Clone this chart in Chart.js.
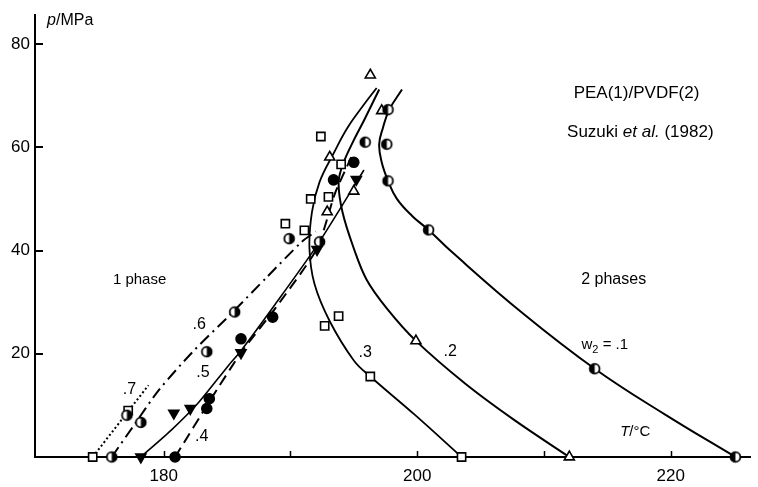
<!DOCTYPE html>
<html>
<head>
<meta charset="utf-8">
<script src="https://cdn.jsdelivr.net/npm/chart.js@4.4.1/dist/chart.umd.min.js"></script>
<style>
  html, body { margin: 0; padding: 0; background: #fff; }
  #wrap { width: 758px; height: 487px; }
</style>
</head>
<body>
<div id="wrap"><canvas id="c" width="758" height="487"></canvas></div>
<script>
// Cloud-point pressure p (MPa) against temperature T (°C) for PEA(1)/PVDF(2),
// one curve per PVDF weight fraction w2, plus the measured points.

// w2 = .1
const curveT_w1 = [198.8, 197.8, 197.3, 197.0, 197.2, 197.7, 198.4, 199.6, 200.9, 202.7, 208.3, 214.0, 219.5, 225.1];
const curveP_w1 = [71.2, 67.3, 63.8, 60.6, 57.1, 53.5, 50.0, 46.7, 44.0, 39.8, 27.9, 17.1, 8.3, 0];
const pointT_w1 = [225.1, 214.0, 200.9, 197.7, 197.6, 195.9, 197.7];
const pointP_w1 = [0, 17.1, 44.0, 53.5, 60.6, 61.0, 67.3];

// w2 = .2
const curveT_w2 = [197.0, 195.8, 195.0, 194.2, 193.8, 194.1, 195.0, 196.0, 197.6, 199.9, 203.8, 207.7, 212.0];
const curveP_w2 = [71.2, 65.2, 61.4, 57.1, 53.3, 47.5, 40.4, 34.4, 28.8, 22.5, 14.2, 7.1, 0];
const pointT_w2 = [196.3, 197.2, 193.1, 192.9, 195.0, 199.9, 212.0];
const pointP_w2 = [74.0, 67.1, 58.1, 47.5, 51.5, 22.5, 0];

// w2 = .3
const curveT_w3 = [196.8, 195.8, 194.5, 193.4, 192.3, 191.7, 191.5, 191.9, 193.1, 195.0, 196.3, 199.8, 203.5];
const curveP_w3 = [71.5, 68.3, 63.8, 58.8, 53.3, 47.5, 40.4, 33.5, 26.3, 18.7, 15.6, 8.2, 0];
const pointT_w3 = [192.4, 194.0, 191.6, 193.0, 189.6, 191.1, 192.7, 193.8, 196.3, 203.5];
const pointP_w3 = [62.1, 56.7, 50.0, 50.4, 45.2, 43.9, 25.4, 27.3, 15.6, 0];

// w2 = .4
const curveT_w4 = [180.9, 183.8, 186.1, 188.8, 192.1, 193.5, 194.8];
const curveP_w4 = [0, 11.5, 20.2, 28.8, 40.4, 51.0, 58.1];
const pointT_w4 = [180.9, 183.4, 183.6, 186.1, 188.6, 193.4, 195.0];
const pointP_w4 = [0, 9.4, 11.3, 22.9, 27.1, 53.7, 57.1];

// w2 = .5
const curveT_w5 = [178.2, 180.6, 182.7, 185.1, 186.1, 188.8, 192.1, 195.8];
const curveP_w5 = [0, 5.2, 10.4, 17.7, 20.6, 29.6, 41.0, 55.6];
const pointT_w5 = [178.2, 180.8, 182.1, 186.1, 192.1, 195.2];
const pointP_w5 = [0, 8.5, 9.4, 20.2, 40.2, 53.8];

// w2 = .6
const curveT_w6 = [175.9, 177.5, 179.6, 182.3, 185.3, 188.2, 190.9, 192.0];
const curveP_w6 = [0, 5.6, 12.9, 20.4, 27.7, 35.0, 41.7, 43.7];
const pointT_w6 = [175.9, 177.1, 178.2, 183.4, 185.6, 189.9, 192.3];
const pointP_w6 = [0, 8.1, 6.7, 20.4, 28.1, 42.3, 41.7];

// w2 = .7
const curveT_w7 = [174.4, 178.8];
const curveP_w7 = [0, 13.9];
const pointT_w7 = [174.4, 177.2];
const pointP_w7 = [0, 9.0];

// axis ticks
const xTickValues = [180, 200, 220];
const xMinorTickValues = [190, 210];
const yTickValues = [20, 40, 60, 80];

const FONT = '"Liberation Sans", Arial, Helvetica, sans-serif';

function pts(T, p) { return T.map((t, i) => ({ x: t, y: p[i] })); }

// half-filled circle marker drawn on a small canvas
function halfDisc(r, side) {
  const s = Math.ceil(2 * r + 4);
  const c = document.createElement('canvas');
  c.width = s; c.height = s;
  const g = c.getContext('2d');
  const m = s / 2;
  g.beginPath(); g.arc(m, m, r, 0, 2 * Math.PI); g.fillStyle = '#fff'; g.fill();
  g.beginPath();
  if (side === 'left') g.arc(m, m, r, Math.PI / 2, 3 * Math.PI / 2);
  else g.arc(m, m, r, -Math.PI / 2, Math.PI / 2);
  g.closePath(); g.fillStyle = '#000'; g.fill();
  g.beginPath(); g.arc(m, m, r - 0.4, 0, 2 * Math.PI); g.lineWidth = 1.8; g.strokeStyle = '#000'; g.stroke();
  return c;
}
const halfLeft = halfDisc(5.3, 'left');
const halfRight = halfDisc(5.3, 'right');

function curve(T, p, extra) {
  return Object.assign({
    data: pts(T, p), showLine: true, borderColor: '#000', borderWidth: 2,
    pointRadius: 0, pointHoverRadius: 0, tension: 0.35, fill: false, order: 2
  }, extra || {});
}
function marks(T, p, extra) {
  return Object.assign({
    data: pts(T, p), showLine: false, clip: false, order: 0,
    pointBorderColor: '#000', pointBorderWidth: 1.6, pointRadius: 5.5, pointHoverRadius: 5.5
  }, extra || {});
}

const datasets = [
  curve(curveT_w1, curveP_w1, { tension: 0.42 }),
  curve(curveT_w2, curveP_w2),
  curve(curveT_w3, curveP_w3, { borderWidth: 1.8, tension: 0.4 }),
  curve(curveT_w4, curveP_w4, { borderDash: [11, 6], tension: 0.2 }),
  curve(curveT_w5, curveP_w5, { borderWidth: 1.6, tension: 0.25 }),
  curve(curveT_w6, curveP_w6, { borderDash: [12, 5, 2, 5], tension: 0.25 }),
  curve(curveT_w7, curveP_w7, { borderDash: [2, 2.5], tension: 0 }),
  marks(pointT_w1, pointP_w1, { pointStyle: halfLeft }),
  marks(pointT_w2, pointP_w2, { pointStyle: 'triangle', pointBackgroundColor: '#fff', pointRadius: 5.8 }),
  marks(pointT_w3, pointP_w3, { pointStyle: 'rect', pointBackgroundColor: '#fff', pointRadius: 5.8 }),
  marks(pointT_w4, pointP_w4, { pointStyle: 'circle', pointBackgroundColor: '#000', pointRadius: 5 }),
  marks(pointT_w5, pointP_w5, { pointStyle: 'triangle', rotation: 180, pointBackgroundColor: '#000', pointRadius: 5.8 }),
  marks(pointT_w6, pointP_w6, { pointStyle: halfRight }),
  marks(pointT_w7, pointP_w7, { pointStyle: 'rect', pointBackgroundColor: '#fff', pointRadius: 5.8 })
];

// text placed in data coordinates; parts: [text, style] with style '' | 'i' (italic) | 's' (subscript)
const notes = [
  { parts: [['p', 'i'], ['/MPa', '']], T: 170.8, p: 84.6, size: 16, align: 'left' },
  { parts: [['T', 'i'], ['/°C', '']], T: 217.2, p: 4.8, size: 15 },
  { parts: [['PEA(1)/PVDF(2)', '']], T: 217.3, p: 70.4, size: 17 },
  { parts: [['Suzuki ', ''], ['et al.', 'i'], [' (1982)', '']], T: 217.6, p: 62.9, size: 17 },
  { parts: [['1 phase', '']], T: 178.1, p: 34.4, size: 15 },
  { parts: [['2 phases', '']], T: 215.5, p: 34.4, size: 16 },
  { parts: [['w', ''], ['2', 's'], [' = .1', '']], T: 214.8, p: 21.7, size: 15 },
  { parts: [['.2', '']], T: 202.6, p: 20.4, size: 16 },
  { parts: [['.3', '']], T: 195.9, p: 20.2, size: 16 },
  { parts: [['.4', '']], T: 183.0, p: 4.0, size: 16 },
  { parts: [['.5', '']], T: 183.1, p: 16.4, size: 16 },
  { parts: [['.6', '']], T: 182.8, p: 25.6, size: 16 },
  { parts: [['.7', '']], T: 177.3, p: 13.1, size: 16 }
];

function fontFor(style, size) {
  const sz = style === 's' ? Math.round(size * 0.72) : size;
  return (style === 'i' ? 'italic ' : '') + sz + 'px ' + FONT;
}

const decorations = {
  id: 'decorations',
  afterDatasetsDraw(chart) {
    const { ctx, chartArea, scales } = chart;
    const xs = scales.x, ys = scales.y;
    ctx.save();
    ctx.strokeStyle = '#000';
    ctx.lineWidth = 2;
    // inward tick marks
    yTickValues.forEach(v => {
      const y = Math.round(ys.getPixelForValue(v));
      ctx.beginPath(); ctx.moveTo(chartArea.left, y); ctx.lineTo(chartArea.left + 8, y); ctx.stroke();
    });
    ctx.lineWidth = 1.5;
    xTickValues.concat(xMinorTickValues).forEach(v => {
      const x = Math.round(xs.getPixelForValue(v)) + 0.5;
      ctx.beginPath(); ctx.moveTo(x, chartArea.bottom); ctx.lineTo(x, chartArea.bottom - 6); ctx.stroke();
    });
    // text notes
    ctx.fillStyle = '#000';
    ctx.textBaseline = 'middle';
    ctx.textAlign = 'left';
    notes.forEach(n => {
      let total = 0;
      const widths = n.parts.map(([t, s]) => { ctx.font = fontFor(s, n.size); const w = ctx.measureText(t).width; total += w; return w; });
      let x = xs.getPixelForValue(n.T);
      const y = ys.getPixelForValue(n.p);
      if (n.align !== 'left') x -= total / 2;
      n.parts.forEach(([t, s], i) => {
        ctx.font = fontFor(s, n.size);
        ctx.fillText(t, x, s === 's' ? y + n.size * 0.3 : y);
        x += widths[i];
      });
    });
    ctx.restore();
  }
};

new Chart(document.getElementById('c'), {
  type: 'scatter',
  data: { datasets },
  options: {
    responsive: false,
    animation: false,
    devicePixelRatio: 1,
    layout: { padding: { top: 12, right: 0, bottom: 0, left: 0 } },
    plugins: { legend: { display: false }, tooltip: { enabled: false } },
    events: [],
    scales: {
      x: {
        type: 'linear', min: 169.85, max: 226.3,
        grid: { display: false, drawTicks: false },
        border: { display: true, color: '#000', width: 2 },
        ticks: { color: '#000', font: { family: FONT, size: 17 }, padding: 9 },
        afterBuildTicks: axis => { axis.ticks = xTickValues.map(v => ({ value: v })); },
        afterFit: axis => { axis.height = 30; }
      },
      y: {
        type: 'linear', min: 0, max: 85.6,
        grid: { display: false, drawTicks: false },
        border: { display: true, color: '#000', width: 2 },
        ticks: { color: '#000', font: { family: FONT, size: 17 }, padding: 5 },
        afterBuildTicks: axis => { axis.ticks = yTickValues.map(v => ({ value: v })); },
        afterFit: axis => { axis.width = 35; }
      }
    }
  },
  plugins: [decorations]
});
</script>
</body>
</html>
